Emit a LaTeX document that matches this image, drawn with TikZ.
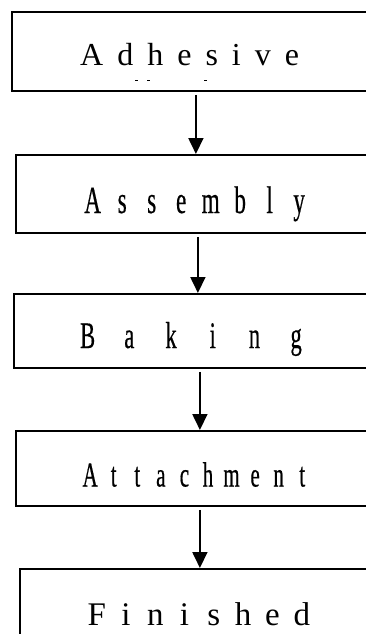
\documentclass[tikz,border=0pt]{standalone}
\usepackage{fontspec}
\setmainfont{Liberation Serif}
\newfontfamily\condfont[FakeStretch=0.6,FakeBold=0.4]{Liberation Serif}
\usetikzlibrary{arrows.meta}
\ExplSyntaxOn
\NewDocumentCommand\cells{m m}{ \tl_map_inline:nn {#2} { \makebox[#1]{##1} } }
\NewDocumentCommand\spaced{m m}{ \tl_map_inline:nn {#2} { ##1 \hspace{#1} } }
\ExplSyntaxOff
\tikzset{
  stagebox/.style={draw, line width=1.8pt, rectangle, inner sep=0pt, anchor=north west},
  stagetext/.style={inner sep=0pt, anchor=base west},
  flowarrow/.style={line width=1.8pt, -{Triangle[length=16pt,width=15pt]}, shorten <=3pt},
}
\begin{document}
\begin{tikzpicture}[x=1pt,y=-1pt]
\useasboundingbox (0,0) rectangle (366,634);
\clip (0,0) rectangle (366,634);
% boxes
\node[stagebox, minimum width=368pt, minimum height=79pt] (b1) at (11,11) {};
\node[stagebox, minimum width=364pt, minimum height=78pt] (b2) at (15,154) {};
\node[stagebox, minimum width=372pt, minimum height=74pt] (b3) at (13,293) {};
\node[stagebox, minimum width=368pt, minimum height=75pt] (b4) at (15,430) {};
\node[stagebox, minimum width=370pt, minimum height=90pt] (b5) at (19,568) {};
% texts
\node[stagetext] (t1) at (80,66) {\fontsize{32}{38}\selectfont\spaced{14pt}{Adhesive}};
\node[stagetext] (t2) at (77.75,213) {\condfont\fontsize{38.5}{44}\selectfont\cells{29.5pt}{Assembly}};
\node[stagetext] (t3) at (66.6,348) {\condfont\fontsize{37.5}{44}\selectfont\cells{41.7pt}{Baking}};
\node[stagetext] (t4) at (78.2,486.5) {\condfont\fontsize{35}{42}\selectfont\cells{23.56pt}{Attachment}};
\node[stagetext] (t5) at (81.85,625) {\fontsize{33}{40}\selectfont\cells{29.3pt}{Finished}};
% clipped remnants of a second line in the first box
\fill (135,79.5) rectangle (138,81);
\fill (147,79.5) rectangle (150,81);
\fill (203.5,79.5) rectangle (206.5,81);
% arrows
\draw[flowarrow] (b1.south) -- (b1.south |- b2.north);
\draw[flowarrow] (b2.south) -- (b2.south |- b3.north);
\draw[flowarrow] (b3.south) -- (b3.south |- b4.north);
\draw[flowarrow] (b4.south) -- (b4.south |- b5.north);
\end{tikzpicture}
\end{document}
